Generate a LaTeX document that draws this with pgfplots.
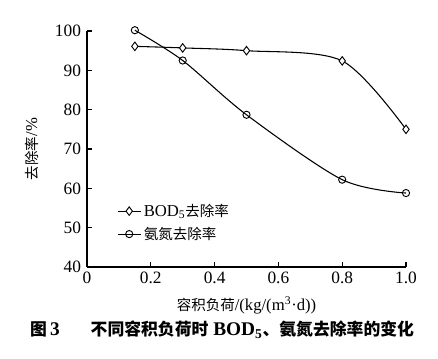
\documentclass[border=0pt]{standalone}
\usepackage{pgfplots}
\pgfplotsset{compat=1.18}
\usepackage{fontspec}
\setmainfont{Liberation Serif}
\newfontfamily\cjk[Scale=0.87]{Noto Sans CJK SC}
\begin{document}
\begin{tikzpicture}[x=0.75pt,y=0.75pt]
\useasboundingbox (-87,-92) rectangle (351,267);
\begin{axis}[
  at={(0pt,0pt)}, anchor=origin,
  scale only axis, width=239.25pt, height=177pt,
  xmin=0, xmax=1.0, ymin=40, ymax=100,
  xtick={0,0.2,0.4,0.6,0.8,1.0},
  xticklabels={0,0.2,0.4,0.6,0.8,1.0},
  ytick={40,50,...,100},
  axis lines*=left,
  axis line style={line width=0.8pt},
  tick style={line width=0.8pt, black},
  tick align=inside,
  major tick length=4pt,
  /pgf/number format/assume math mode=true,
  tick label style={font=\fontsize{13}{15}\selectfont},
  yticklabel style={xshift=-1pt},
  xlabel={{\cjk 容积负荷}/(kg/(m\textsuperscript{3}·d))},
  ylabel={{\cjk 去除率}/\%},
  label style={font=\fontsize{12.5}{14}\selectfont},
  xlabel style={at={(axis description cs:0.5,0)}, anchor=north, yshift=-19pt},
  ylabel style={at={(axis description cs:0,0.5)}, anchor=south, yshift=33pt},
  clip=false,
  legend style={draw=none, fill=none, at={(axis description cs:0.09,0.285)}, anchor=north west,
    font=\fontsize{12.5}{14}\selectfont, row sep=2.5pt, inner sep=1pt},
  legend cell align=left,
]
\addplot[black, line width=0.8pt, smooth, tension=0.5, mark=diamond*, mark size=3.2pt, mark options={fill=white, line width=0.7pt}]
  coordinates {(0.15,96.1) (0.3,95.7) (0.5,95.0) (0.8,92.4) (1.0,75.0)};
\addlegendentry{BOD\textsubscript{5}{\cjk 去除率}}
\addplot[black, line width=0.8pt, smooth, tension=0.5, mark=o, mark size=2.7pt, mark options={fill=white, line width=0.7pt}]
  coordinates {(0.15,100.2) (0.3,92.5) (0.5,78.7) (0.8,62.2) (1.0,58.8)};
\addlegendentry{\cjk 氨氮去除率}
\end{axis}
\node[font=\fontsize{14.5}{16}\selectfont\bfseries] at (135,-63) {{\cjk\bfseries 图}\,3\hspace{1.6em}{\cjk\bfseries 不同容积负荷时} BOD\textsubscript{5}{\cjk\bfseries 、氨氮去除率的变化}};
\end{tikzpicture}
\end{document}
